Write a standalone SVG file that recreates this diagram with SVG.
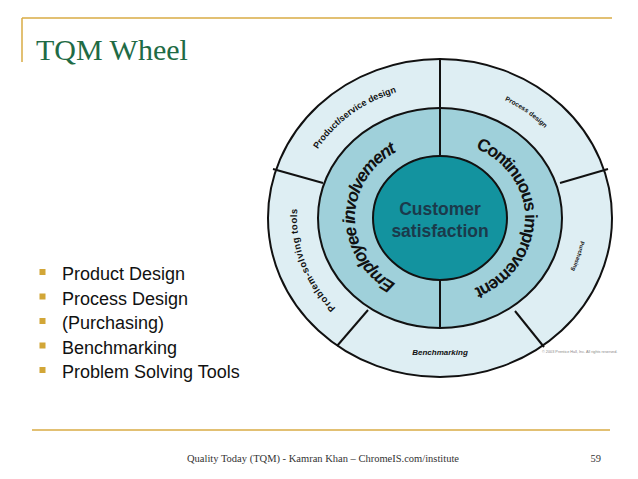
<svg xmlns="http://www.w3.org/2000/svg" width="638" height="479" viewBox="0 0 638 479">
<style>
.rule{stroke:#d9ab45;stroke-width:1.5;fill:none}
.ring{stroke:#111;stroke-width:2}
.div{stroke:#111;stroke-width:2}
.big{font-family:"Liberation Sans",Arial,sans-serif;font-weight:bold;font-size:17.5px;fill:#111;letter-spacing:-1.4px}
.sm{font-family:"Liberation Sans",Arial,sans-serif;font-weight:bold;fill:#111}
.bul{font-family:"Liberation Sans",Arial,sans-serif;font-size:18px;fill:#111}
.sq{fill:#d2a637}
.foot{font-family:"Liberation Serif","Times New Roman",serif;font-size:10.5px;fill:#333}
</style>
<defs>
<path id="pEmp" d="M440,295 A85,77 0 0 1 440,141"/>
<path id="pCon" d="M440,141 A85,77 0 0 1 440,295"/>
<path id="pProd" d="M297.8,204.2 A143,132 0 0 1 454.9,86.7"/>
<path id="pProc" d="M422.6,87 A143,132 0 0 1 581.9,201.9"/>
<path id="pPur" d="M565.1,154 A143,132 0 0 1 509.3,333.4"/>
<path id="pProb" d="M377.3,336.6 A143,132 0 0 1 311.5,160.1"/>
</defs>
<rect width="638" height="479" fill="#ffffff"/>
<g id="frame">
<line class="rule" x1="22" y1="18" x2="612" y2="18"/>
<line class="rule" x1="22" y1="18" x2="22" y2="62"/>
<line class="rule" x1="32" y1="430" x2="610" y2="430"/>
</g>
<text id="title" x="36" y="60" font-family="'Liberation Serif','Times New Roman',serif" font-size="30" fill="#1f6b45">TQM Wheel</text>
<g id="bullets">
<rect class="sq" x="39.5" y="269" width="6" height="6"/>
<text class="bul" x="62" y="280">Product Design</text>
<rect class="sq" x="39.5" y="293.5" width="6" height="6"/>
<text class="bul" x="62" y="304.5">Process Design</text>
<rect class="sq" x="39.5" y="318" width="6" height="6"/>
<text class="bul" x="62" y="329">(Purchasing)</text>
<rect class="sq" x="39.5" y="342.5" width="6" height="6"/>
<text class="bul" x="62" y="353.5">Benchmarking</text>
<rect class="sq" x="39.5" y="367" width="6" height="6"/>
<text class="bul" x="62" y="378">Problem Solving Tools</text>
</g>
<g id="wheel">
<g id="outer-ring">
<ellipse class="ring" cx="440" cy="218" rx="172" ry="159" fill="#deeef3"/>
</g>
<g id="middle-ring">
<ellipse class="ring" cx="440" cy="218" rx="122" ry="110" fill="#9fd0da"/>
</g>
<g id="center">
<ellipse class="ring" cx="440" cy="218" rx="67" ry="62" fill="#13939f"/>
<text x="440" y="215" text-anchor="middle" font-family="'Liberation Sans',Arial,sans-serif" font-weight="bold" font-size="17.5" fill="#1b3a4b">Customer</text>
<text x="440" y="237" text-anchor="middle" font-family="'Liberation Sans',Arial,sans-serif" font-weight="bold" font-size="17.5" fill="#1b3a4b">satisfaction</text>
</g>
<g id="connectors">
<line class="div" x1="440" y1="59" x2="440" y2="156"/>
<line class="div" x1="440" y1="280" x2="440" y2="328"/>
<line class="div" x1="273" y1="169" x2="323" y2="183"/>
<line class="div" x1="560" y1="183" x2="608" y2="169"/>
<line class="div" x1="368" y1="310" x2="337" y2="346"/>
<line class="div" x1="515" y1="311" x2="544" y2="347"/>
</g>
<g id="employee-involvement">
<text class="big" font-style="italic"><textPath href="#pEmp" startOffset="50%" text-anchor="middle">Employee involvement</textPath></text>
</g>
<g id="continuous-improvement">
<text class="big"><textPath href="#pCon" startOffset="50%" text-anchor="middle">Continuous improvement</textPath></text>
</g>
<g id="product-design">
<text class="sm" font-size="9"><textPath href="#pProd" startOffset="50%" text-anchor="middle">Product/service design</textPath></text>
</g>
<g id="process-design">
<text class="sm" font-size="6.6"><textPath href="#pProc" startOffset="50%" text-anchor="middle">Process design</textPath></text>
</g>
<g id="purchasing">
<text class="sm" font-size="5.6"><textPath href="#pPur" startOffset="50%" text-anchor="middle">Purchasing</textPath></text>
</g>
<g id="problem-solving">
<text class="sm" font-size="9.5" letter-spacing="0.5"><textPath href="#pProb" startOffset="50%" text-anchor="middle">Problem-solving tools</textPath></text>
</g>
<g id="benchmarking">
<text class="sm" x="440" y="354.5" text-anchor="middle" font-size="8" font-style="italic">Benchmarking</text>
</g>
<text x="542" y="352.5" font-family="'Liberation Sans',Arial,sans-serif" font-size="3.8" fill="#888">© 2003 Prentice Hall, Inc. All rights reserved.</text>
</g>
<g id="footer">
<text class="foot" x="187" y="462">Quality Today (TQM) - Kamran Khan – ChromeIS.com/institute</text>
<text class="foot" x="601" y="462" text-anchor="end">59</text>
</g>
</svg>
